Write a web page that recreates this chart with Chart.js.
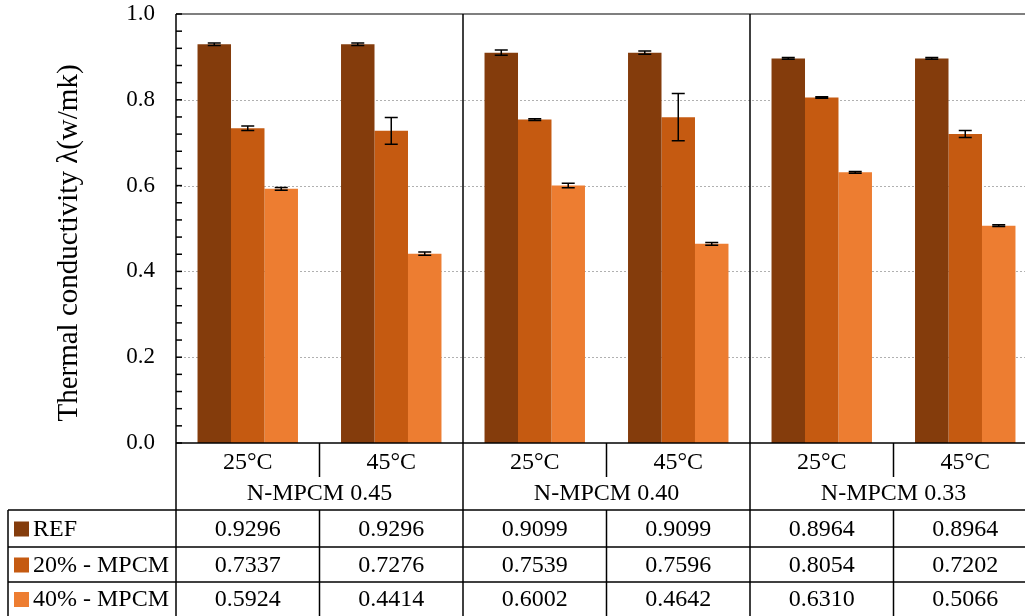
<!DOCTYPE html>
<html>
<head>
<meta charset="utf-8">
<script src="https://cdn.jsdelivr.net/npm/chart.js@4.4.1/dist/chart.umd.min.js"></script>
<style>
html,body{margin:0;padding:0;background:#fff;overflow:hidden;}
#wrap{width:1040px;height:616px;}
</style>
</head>
<body>
<div id="wrap"><canvas id="c" width="1040" height="616"></canvas></div>
<script>
const categories = ['25°C','45°C','25°C','45°C','25°C','45°C'];
const groups = ['N-MPCM 0.45','N-MPCM 0.40','N-MPCM 0.33'];
const seriesNames = ['REF','20% - MPCM','40% - MPCM'];
const refValues = [0.9296,0.9296,0.9099,0.9099,0.8964,0.8964];
const mpcm20Values = [0.7337,0.7276,0.7539,0.7596,0.8054,0.7202];
const mpcm40Values = [0.5924,0.4414,0.6002,0.4642,0.6310,0.5066];
const refErr = [0.003,0.003,0.006,0.004,0.002,0.002];
const mpcm20Err = [0.005,0.031,0.002,0.055,0.002,0.008];
const mpcm40Err = [0.003,0.004,0.005,0.003,0.002,0.002];
const yTicks = [0,0.2,0.4,0.6,0.8,1.0];
const colors = ['#843C0C','#C55A11','#ED7D31'];
const FONT = '"Liberation Serif","Times New Roman",serif';

const values = [refValues, mpcm20Values, mpcm40Values];
const errs = [refErr, mpcm20Err, mpcm40Err];

const TOP = 14, BOTTOM_Y = 443, ROW_SUB = 477, ROW1 = 510, ROW2 = 547, ROW3 = 582, TABLE_LEFT = 8;

const decor = {
  id: 'decor',
  beforeDatasetsDraw(chart) {
    const ctx = chart.ctx, y = chart.scales.y, a = chart.chartArea;
    ctx.save();
    ctx.strokeStyle = '#b0b0b0';
    ctx.lineWidth = 1;
    ctx.setLineDash([2,2]);
    yTicks.forEach(v => {
      if (v <= 0 || v >= 1) return;
      const py = Math.round(y.getPixelForValue(v)) + 0.5;
      ctx.beginPath(); ctx.moveTo(a.left, py); ctx.lineTo(a.right, py); ctx.stroke();
    });
    ctx.restore();
  },
  afterDatasetsDraw(chart) {
    const ctx = chart.ctx, y = chart.scales.y, x = chart.scales.x, a = chart.chartArea;
    ctx.save();
    // error bars
    ctx.strokeStyle = '#000';
    ctx.lineWidth = 1.5;
    chart.data.datasets.forEach((ds, di) => {
      const meta = chart.getDatasetMeta(di);
      meta.data.forEach((el, i) => {
        const v = values[di][i], e = errs[di][i];
        const y1 = y.getPixelForValue(v + e), y2 = y.getPixelForValue(v - e);
        const cx = el.x, hw = 6.5;
        ctx.beginPath();
        ctx.moveTo(cx, y1); ctx.lineTo(cx, y2);
        ctx.moveTo(cx - hw, y1); ctx.lineTo(cx + hw, y1);
        ctx.moveTo(cx - hw, y2); ctx.lineTo(cx + hw, y2);
        ctx.stroke();
      });
    });
    // top line
    ctx.strokeStyle = '#555';
    ctx.lineWidth = 1.5;
    ctx.beginPath(); ctx.moveTo(a.left, a.top); ctx.lineTo(a.right, a.top); ctx.stroke();
    // minor ticks
    ctx.strokeStyle = '#000';
    ctx.lineWidth = 1.5;
    for (let k = 0; k <= 25; k++) {
      const py = y.getPixelForValue(k * 0.04);
      ctx.beginPath(); ctx.moveTo(a.left, py); ctx.lineTo(a.left + 6, py); ctx.stroke();
    }
    // bottom axis line & table horizontal lines
    const W = chart.width;
    ctx.beginPath(); ctx.moveTo(a.left, a.bottom); ctx.lineTo(W, a.bottom); ctx.stroke();
    [ROW1, ROW2, ROW3].forEach(r => {
      ctx.beginPath(); ctx.moveTo(TABLE_LEFT, r); ctx.lineTo(W, r); ctx.stroke();
    });
    // vertical lines
    const catW = (a.right - a.left) / categories.length;
    ctx.beginPath(); ctx.moveTo(a.left, a.top); ctx.lineTo(a.left, 616); ctx.stroke();
    ctx.beginPath(); ctx.moveTo(TABLE_LEFT, ROW1); ctx.lineTo(TABLE_LEFT, 616); ctx.stroke();
    for (let k = 1; k < categories.length; k++) {
      const px = a.left + catW * k;
      ctx.beginPath();
      if (k % 2 === 0) {
        ctx.moveTo(px, a.top); ctx.lineTo(px, 616);
      } else {
        ctx.moveTo(px, a.bottom); ctx.lineTo(px, ROW_SUB);
        ctx.moveTo(px, ROW1); ctx.lineTo(px, 616);
      }
      ctx.stroke();
    }
    // texts
    ctx.fillStyle = '#000';
    ctx.font = '24px ' + FONT;
    ctx.textAlign = 'center';
    ctx.textBaseline = 'middle';
    categories.forEach((c, i) => {
      ctx.fillText(c, x.getPixelForValue(i), 463);
    });
    groups.forEach((g, gi) => {
      ctx.fillText(g, a.left + catW * (2 * gi + 1), 494);
    });
    const rowMid = [(ROW1 + ROW2) / 2, (ROW2 + ROW3) / 2, (ROW3 + 616) / 2];
    values.forEach((arr, di) => {
      arr.forEach((v, i) => {
        ctx.fillText(v.toFixed(4), x.getPixelForValue(i), rowMid[di] + 1);
      });
      ctx.fillStyle = colors[di];
      ctx.fillRect(14, rowMid[di] - 7, 15, 15);
      ctx.fillStyle = '#000';
      ctx.textAlign = 'left';
      ctx.fillText(seriesNames[di], 33, rowMid[di] + 1);
      ctx.textAlign = 'center';
    });
    // y axis title
    ctx.save();
    ctx.translate(69, 243);
    ctx.rotate(-Math.PI / 2);
    ctx.font = '29px ' + FONT;
    ctx.fillText('Thermal conductivity λ(w/mk)', 0, 0);
    ctx.restore();
    ctx.restore();
  }
};

new Chart(document.getElementById('c'), {
  type: 'bar',
  data: {
    labels: categories,
    datasets: seriesNames.map((n, i) => ({
      label: n,
      data: values[i],
      backgroundColor: colors[i],
      borderWidth: 0,
      categoryPercentage: 0.7,
      barPercentage: 1.0
    }))
  },
  options: {
    responsive: false,
    animation: false,
    devicePixelRatio: 1,
    layout: { padding: { left: 0, top: TOP, right: 3, bottom: 616 - BOTTOM_Y } },
    plugins: { legend: { display: false }, tooltip: { enabled: false }, title: { display: false } },
    scales: {
      x: { display: false },
      y: {
        min: 0, max: 1,
        afterFit(s) { s.width = 176; s.paddingTop = 0; s.paddingBottom = 0; },
        grid: { display: false, drawTicks: false },
        border: { display: false },
        ticks: {
          stepSize: 0.2,
          padding: 21,
          color: '#000',
          font: { family: FONT, size: 23 },
          callback: v => Number(v).toFixed(1)
        }
      }
    }
  },
  plugins: [decor]
});
</script>
</body>
</html>
